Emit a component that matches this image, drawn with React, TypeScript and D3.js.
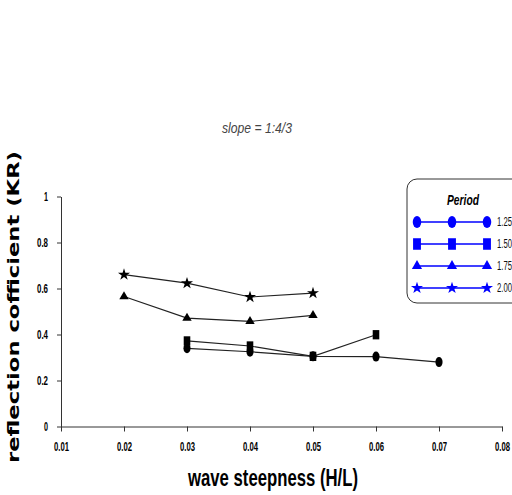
import React, { useEffect, useRef } from "react";
import * as d3 from "d3";

const steepness = [0.02, 0.03, 0.04, 0.05, 0.06, 0.07];
const periods = ["1.25", "1.50", "1.75", "2.00"];
const markers = ["circle", "square", "triangle", "star"];

// reflection coefficient per period, null where there is no point
const kr125 = [null, 0.34, 0.325, 0.305, 0.304, 0.28];
const kr150 = [null, 0.372, 0.35, 0.305, 0.399, null];
const kr175 = [0.565, 0.471, 0.457, 0.483, null, null];
const kr200 = [0.66, 0.623, 0.563, 0.58, null, null];

const xTicks = [0.01, 0.02, 0.03, 0.04, 0.05, 0.06, 0.07, 0.08];
const yTicks = [0, 0.2, 0.4, 0.6, 0.8, 1];

const narrow = "'Liberation Sans', Arial, sans-serif";

function symbolFor(name: string) {
  if (name === "circle") return d3.symbolCircle;
  if (name === "square") return d3.symbolSquare;
  if (name === "triangle") return d3.symbolTriangle;
  return d3.symbolStar;
}

function sizeFor(name: string) {
  if (name === "circle") return 55;
  if (name === "square") return 60;
  if (name === "triangle") return 38;
  return 45;
}

const App = () => {
  const ref = useRef<SVGSVGElement>(null);

  useEffect(() => {
    const svg = d3.select(ref.current);
    svg.selectAll("*").remove();

    const x = d3.scaleLinear().domain([0.01, 0.08]).range([61, 502]);
    const y = d3.scaleLinear().domain([0, 1]).range([426.5, 196.5]);

    // axes
    const xAxis = svg.append("g").attr("transform", `translate(0,${y(0)})`)
      .call(d3.axisBottom(x).tickValues(xTicks).tickSize(5).tickSizeOuter(0).tickFormat(d3.format(".2f")));
    xAxis.select(".domain").attr("stroke", "#333");
    xAxis.selectAll("line").attr("stroke", "#333");
    xAxis.selectAll("text")
      .attr("y", 16)
      .attr("textLength", 15).attr("lengthAdjust", "spacingAndGlyphs")
      .style("font-family", narrow).style("font-size", "12px").style("font-weight", "bold");

    const yAxis = svg.append("g").attr("transform", `translate(${x(0.01)},0)`)
      .call(d3.axisLeft(y).tickValues(yTicks).tickSize(4).tickSizeOuter(0).tickFormat((d: any) => String(d)));
    yAxis.select(".domain").attr("stroke", "#333");
    yAxis.selectAll("line").attr("stroke", "#333");
    yAxis.selectAll("text")
      .attr("x", -13)
      .attr("textLength", (d: any) => (d === 0 || d === 1 ? 4 : 11)).attr("lengthAdjust", "spacingAndGlyphs")
      .style("font-family", narrow).style("font-size", "12px").style("font-weight", "bold");

    // series
    const all = [kr125, kr150, kr175, kr200];
    const line = d3.line<[number, number]>().x(d => x(d[0])).y(d => y(d[1]));
    all.forEach((vals, i) => {
      const pts: [number, number][] = [];
      vals.forEach((v, j) => { if (v !== null) pts.push([steepness[j], v]); });
      svg.append("path").attr("d", line(pts)).attr("fill", "none").attr("stroke", "#222").attr("stroke-width", 1.2);
      const sym = d3.symbol().type(symbolFor(markers[i])).size(sizeFor(markers[i]));
      svg.selectAll(null).data(pts).join("path")
        .attr("d", sym)
        .attr("transform", d => `translate(${x(d[0])},${y(d[1])}) scale(${markers[i] === "circle" || markers[i] === "square" ? "0.85,1.2" : "1,1"})`)
        .attr("fill", "#000");
    });

    // legend
    const lg = svg.append("g");
    lg.append("rect").attr("x", 407).attr("y", 179).attr("width", 130).attr("height", 124)
      .attr("rx", 10).attr("fill", "#fff").attr("stroke", "#333").attr("stroke-width", 1);
    lg.append("text").attr("x", 463).attr("y", 205).attr("text-anchor", "middle")
      .attr("textLength", 32).attr("lengthAdjust", "spacingAndGlyphs")
      .style("font-family", narrow).style("font-size", "14px").style("font-weight", "bold").style("font-style", "italic")
      .text("Period");
    const rowY = d3.scalePoint<string>().domain(periods).range([222, 288]);
    const legX = [417, 452, 487];
    periods.forEach((p, i) => {
      const ry = rowY(p)!;
      lg.append("line").attr("x1", legX[0]).attr("x2", legX[2]).attr("y1", ry).attr("y2", ry)
        .attr("stroke", "#0000ff").attr("stroke-width", 1.3);
      const sym = d3.symbol().type(symbolFor(markers[i])).size(markers[i] === "square" ? 110 : markers[i] === "circle" ? 70 : 45);
      legX.forEach(lx => {
        lg.append("path").attr("d", sym)
          .attr("transform", `translate(${lx},${ry}) scale(${markers[i] === "circle" ? "0.9,1.25" : markers[i] === "square" ? "0.75,1.1" : "1,1"})`)
          .attr("fill", "#0000ff");
      });
      lg.append("text").attr("x", 497).attr("y", ry + 4)
        .attr("textLength", 15).attr("lengthAdjust", "spacingAndGlyphs")
        .style("font-family", narrow).style("font-size", "12px").attr("fill", "#111").text(p);
    });

    // title
    svg.append("text").attr("x", 257).attr("y", 133).attr("text-anchor", "middle")
      .attr("textLength", 70).attr("lengthAdjust", "spacingAndGlyphs")
      .style("font-family", narrow).style("font-size", "14px").style("font-style", "italic").attr("fill", "#444")
      .text("slope = 1:4/3");

    // axis titles
    svg.append("text").attr("x", 273).attr("y", 486).attr("text-anchor", "middle")
      .attr("textLength", 170).attr("lengthAdjust", "spacingAndGlyphs")
      .style("font-family", narrow).style("font-size", "24px").style("font-weight", "bold")
      .text("wave steepness (H/L)");

    svg.append("text").attr("transform", "translate(19,307) rotate(-90)").attr("text-anchor", "middle")
      .attr("textLength", 312).attr("lengthAdjust", "spacingAndGlyphs")
      .style("font-family", "'DejaVu Sans', sans-serif").style("font-size", "15px").style("font-weight", "bold")
      .text("reflection cofficient (KR)");
  }, []);

  return (
    <svg ref={ref} width={512} height={495}
      style={{ position: "absolute", left: 0, top: 0, background: "#fff" }} />
  );
};

export default App;
